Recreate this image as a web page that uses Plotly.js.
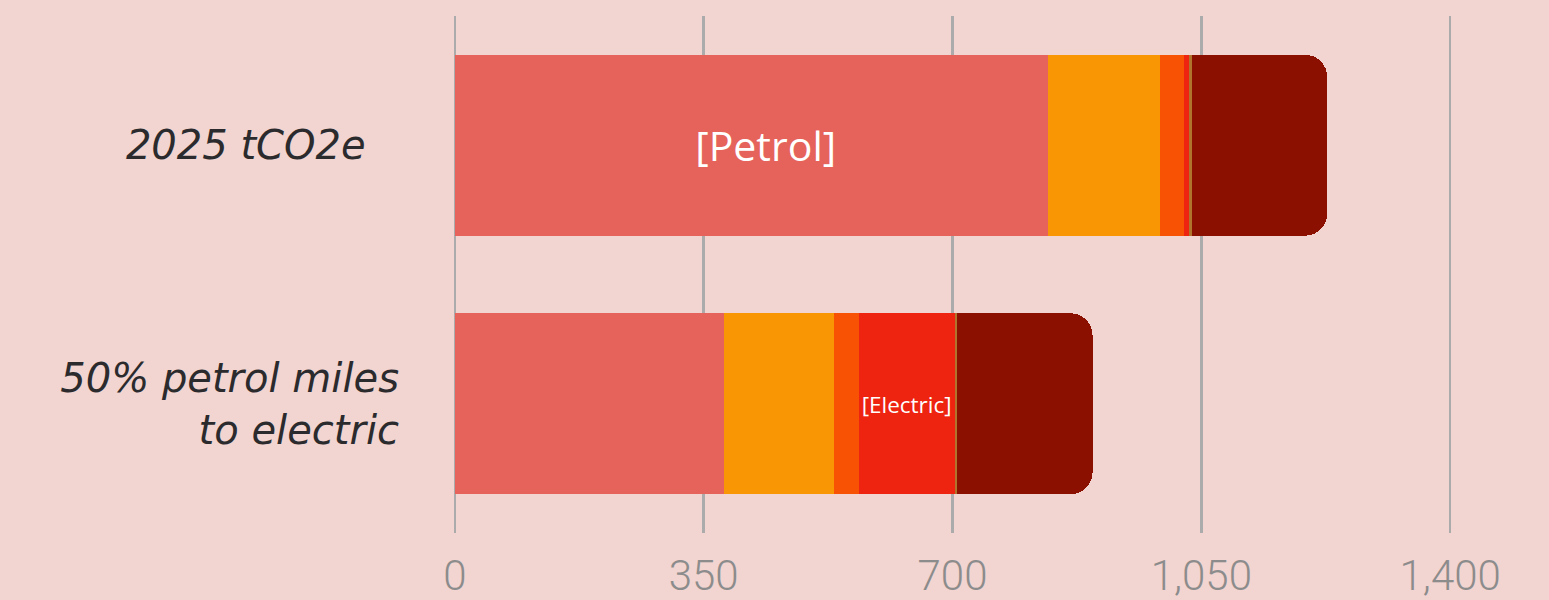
<!DOCTYPE html>
<html>
<head>
<meta charset="utf-8">
<script src="https://cdn.plot.ly/plotly-3.0.1.min.js"></script>
<style>html,body{margin:0;padding:0;background:#F2D4D0;}</style>
</head>
<body>
<div id="chart" style="width:1549px;height:600px;"></div>
<script>
// Data
const categories = ["2025 tCO2e\u00a0\u00a0\u2009", "50% petrol miles<br>to electric"];
const seriesNames = ["Petrol", "Orange", "OrangeRed", "Electric", "Other", "Dark"];
const petrol    = [835, 378];
const orange    = [157, 156];
const orangeRed = [34, 34];
const electric  = [7, 135];
const other     = [4, 4];
const dark      = [190, 190];
const petrolText   = ["\u00a0\u00a0\u2009[Petrol]", ""];
const electricText = ["", "[Electric]"];
const xTickVals = [0, 350, 700, 1050, 1400];

const colors = ["#E5635B", "#F99603", "#F85305", "#EE2310", "#B0742D", "#8B1000"];
const values = [petrol, orange, orangeRed, electric, other, dark];
const texts = [petrolText, null, null, electricText, null, null];
const textSizes = [41, 12, 12, 24, 12, 12];

const traces = values.map((v, i) => {
  const t = {
    type: "bar",
    orientation: "h",
    name: seriesNames[i],
    y: categories,
    x: v,
    marker: {color: colors[i], line: {width: 0}},
    hoverinfo: "skip",
    showlegend: false
  };
  if (texts[i]) {
    t.text = texts[i];
    t.textposition = "inside";
    t.insidetextanchor = "middle";
    t.textangle = 0;
    t.textfont = {family: "Open Sans", size: textSizes[i], color: "#FFFFFF"};
  } else {
    t.textposition = "none";
  }
  return t;
});

const layout = {
  width: 1549,
  height: 600,
  paper_bgcolor: "#F2D4D0",
  plot_bgcolor: "#F2D4D0",
  margin: {l: 452, r: 96, t: 16, b: 67},
  barmode: "stack",
  bargap: 0.3,
  barcornerradius: 22,
  showlegend: false,
  xaxis: {
    range: [-4, 1404],
    tickvals: xTickVals,
    tickformat: ",",
    showgrid: true,
    gridcolor: "#ABABAB",
    gridwidth: 2.5,
    zeroline: false,
    showline: false,
    ticks: "",
    ticklabelstandoff: 14,
    tickfont: {family: "Roboto", size: 42, color: "#8C8C8C", weight: 300}
  },
  yaxis: {
    autorange: "reversed",
    showgrid: false,
    zeroline: false,
    showline: false,
    ticks: "",
    ticklabelstandoff: 52,
    tickfont: {family: "DejaVu Sans", size: 40, color: "#2B2B2E", style: "italic"}
  }
};

Plotly.newPlot("chart", traces, layout, {displayModeBar: false, staticPlot: true});
</script>
</body>
</html>
